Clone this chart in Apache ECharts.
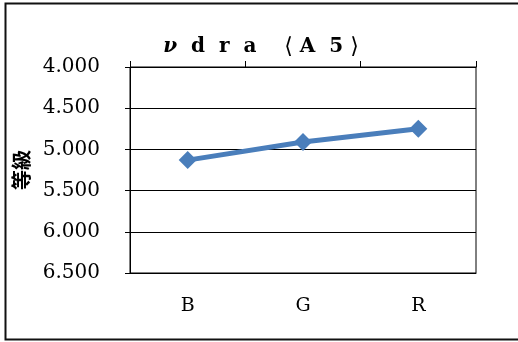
<!DOCTYPE html>
<html>
<head>
<meta charset="utf-8">
<script src="https://cdn.jsdelivr.net/npm/echarts@6/dist/echarts.min.js"></script>
<style>
html, body { margin: 0; padding: 0; background: #fff; }
#main { width: 518px; height: 342px; }
</style>
</head>
<body>
<div id="main"></div>
<script>
// chart data
var categories = ['B', 'G', 'R'];
var gradeValues = [5.13, 4.91, 4.75];
var yMin = 4, yMax = 6.5, yStep = 0.5;

var serif = '"DejaVu Serif", "Liberation Serif", serif';
var chart = echarts.init(document.getElementById('main'));

chart.setOption({
    animation: false,
    title: {
        text: '{nu|ν}  d  r  a    {br|⟨} A  5 {br|⟩}',
        left: 256,
        textAlign: 'center',
        top: 31,
        textStyle: {
            fontFamily: serif, fontSize: 20, fontWeight: 'bold', color: '#000',
            rich: {
                nu: { fontFamily: serif, fontSize: 20, fontWeight: 'bold', fontStyle: 'italic', color: '#000' },
                br: { fontFamily: serif, fontSize: 22, fontWeight: 'normal', color: '#000' }
            }
        }
    },
    graphic: [{
        type: 'rect',
        shape: { x: 5.5, y: 3.5, width: 530, height: 336 },
        style: { fill: null, stroke: '#111', lineWidth: 2 },
        silent: true
    }],
    grid: {
        left: 130, right: 42, top: 67, bottom: 69,
        show: true, borderColor: '#000', borderWidth: 1
    },
    xAxis: [{
        type: 'category',
        data: categories,
        position: 'top',
        boundaryGap: true,
        axisLine: { lineStyle: { color: '#000' } },
        axisTick: { show: true, length: 6, lineStyle: { color: '#000' } },
        axisLabel: { show: false }
    }, {
        type: 'category',
        data: categories,
        position: 'bottom',
        boundaryGap: true,
        axisLine: { lineStyle: { color: '#000' } },
        axisTick: { show: false },
        axisLabel: { margin: 24, fontFamily: serif, fontSize: 19, color: '#000' }
    }],
    yAxis: {
        type: 'value',
        inverse: true,
        min: yMin, max: yMax, interval: yStep,
        name: '等級',
        nameLocation: 'middle',
        nameRotate: 90,
        nameGap: 94,
        nameTextStyle: { fontFamily: '"Noto Sans CJK JP"', fontSize: 20, fontWeight: 'bold', color: '#000' },
        axisLine: { show: true, lineStyle: { color: '#000' } },
        axisTick: { show: true, length: 5, lineStyle: { color: '#000' } },
        splitLine: { lineStyle: { color: '#000', width: 1 } },
        axisLabel: {
            margin: 30,
            fontFamily: serif, fontSize: 20, color: '#000',
            formatter: function (v) { return v.toFixed(3); }
        }
    },
    series: [{
        type: 'line',
        xAxisIndex: 1,
        data: gradeValues,
        symbol: 'diamond',
        symbolSize: 18,
        lineStyle: { color: '#4a7ebb', width: 5 },
        itemStyle: { color: '#4a7ebb' }
    }]
});
</script>
</body>
</html>
